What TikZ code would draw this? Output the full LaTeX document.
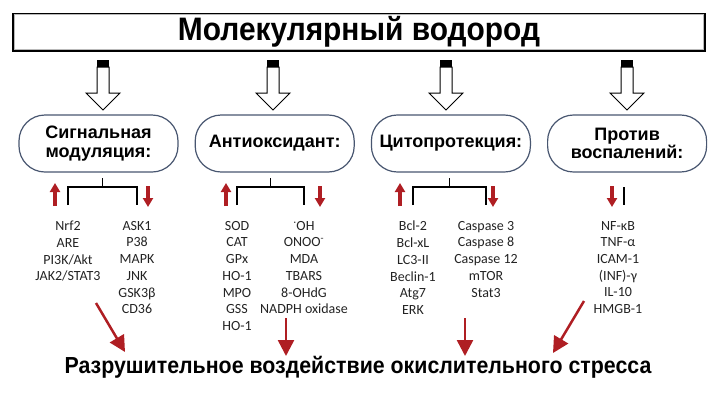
\documentclass[tikz,border=0pt]{standalone}
\usepackage{fontspec}
\setmainfont{Liberation Sans}
\newfontfamily\listfont{Carlito}
\newfontfamily\narrowfont[FakeStretch=0.92]{Liberation Sans}
\usetikzlibrary{arrows.meta, positioning, calc}

\definecolor{stressred}{RGB}{175,30,35}
\definecolor{pillblue}{RGB}{72,86,112}
\definecolor{listgray}{RGB}{35,35,35}

\begin{document}
\begin{tikzpicture}[
    x=1pt, y=-1pt,
    titlebox/.style={rectangle, draw=black, line width=2pt, minimum width=692pt, minimum height=37pt, inner sep=0pt, font=\narrowfont\bfseries\fontsize{32.5}{32.5}\selectfont},
    pill/.style={rectangle, draw=pillblue, line width=1.2pt, rounded corners=26pt, minimum width=159pt, minimum height=57pt, align=center, inner sep=0pt, font=\bfseries\fontsize{18}{18.5}\selectfont},
    itemlist/.style={anchor=north, align=center, inner sep=0pt, text=listgray, font=\listfont\fontsize{14}{16.7}\selectfont},
    bracket/.style={draw=black, line width=1.3pt},
    upmark/.style={draw=stressred, line width=3.5pt, -{Triangle[width=10pt,length=9pt]}},
    bigarrow/.style={draw=stressred, line width=2.5pt, -{Triangle[width=16pt,length=16pt]}},
    hollowarrow/.pic={
        \fill[black] (-6,0) rectangle (6,7);
        \draw[line width=1pt, fill=white] (-6,7) -- (-6,33) -- (-17,33) -- (0,50) -- (17,33) -- (6,33) -- (6,7) -- cycle;
    }
]
\useasboundingbox (0,0) rectangle (715,400);

% 1. Title
\node[titlebox] (title) at (359,32) {Молекулярный водород};
\draw[gray!55, line width=1.2pt] ([shift={(2.2pt,-2.2pt)}]title.north west) rectangle ([shift={(-2.2pt,2.2pt)}]title.south east);

% 2. Effect boxes
\node[pill] (signal) at (98.5,143.5) {Сигнальная\\модуляция:};
\node[pill, right=16pt of signal] (antiox) {Антиоксидант:};
\node[pill, right=16pt of antiox] (cyto) {Цитопротекция:};
\node[pill, right=16pt of cyto] (inflam) {Против\\воспалений:};

% 3. Hollow arrows from title to boxes
\pic at (103,60) {hollowarrow};
\pic at (273,60) {hollowarrow};
\pic at (446,60) {hollowarrow};
\pic at (627,60) {hollowarrow};

% 4. Marker lists
\node[itemlist] (sigup) at (68,221) {Nrf2\\ARE\\PI3K/Akt\\JAK2/STAT3};
\node[itemlist] (sigdown) at (137,221) {ASK1\\P38\\MAPK\\JNK\\GSK3β\\CD36};
\node[itemlist] (antiup) at (237,221) {SOD\\CAT\\GPx\\HO-1\\MPO\\GSS\\HO-1};
\node[itemlist] (antidown) at (304,221) {\textsuperscript{·}OH\\ONOO\textsuperscript{-}\\MDA\\TBARS\\8-OHdG\\NADPH oxidase};
\node[itemlist] (cytoup) at (413,221) {Bcl-2\\Bcl-xL\\LC3-II\\Beclin-1\\Atg7\\ERK};
\node[itemlist] (cytodown) at (486,221) {Caspase 3\\Caspase 8\\Caspase 12\\mTOR\\Stat3};
\node[itemlist] (inflamdown) at (618,221) {NF-κB\\TNF-α\\ICAM-1\\(INF)-γ\\IL-10\\HMGB-1};

% 5. Brackets
\draw[bracket] ([yshift=16pt]sigup.north) |- ([yshift=34pt]sigdown.north) -- ([yshift=16pt]sigdown.north);
\draw[bracket] ($([yshift=34pt]sigup.north)!0.5!([yshift=34pt]sigdown.north)$) -- ++(0,-9);
\draw[bracket] ([yshift=16pt]antiup.north) |- ([yshift=34pt]antidown.north) -- ([yshift=16pt]antidown.north);
\draw[bracket] ($([yshift=34pt]antiup.north)!0.5!([yshift=34pt]antidown.north)$) -- ++(0,-9);
\draw[bracket] ([yshift=16pt]cytoup.north) |- ([yshift=34pt]cytodown.north) -- ([yshift=16pt]cytodown.north);
\draw[bracket] ($([yshift=34pt]cytoup.north)!0.5!([yshift=34pt]cytodown.north)$) -- ++(0,-9);
\draw[bracket] (624,187) -- (624,205);

% 6. Up / down marks
\draw[upmark] (55,206) -- (55,183);
\draw[upmark] (148,186) -- (148,207);
\draw[upmark] (226,206) -- (226,183);
\draw[upmark] (320,186) -- (320,207);
\draw[upmark] (400,206) -- (400,183);
\draw[upmark] (493,186) -- (493,207);
\draw[upmark] (612,186) -- (612,207);

% 7. Oxidative stress
\node[font=\narrowfont\bfseries\fontsize{23.2}{23.2}\selectfont] (stress) at (358,367) {Разрушительное воздействие окислительного стресса};

\coordinate (from1) at (96,303);
\coordinate (to1) at (125,352);
\coordinate (from2) at (286,318);
\coordinate (to2) at (286,356);
\coordinate (from3) at (465,318);
\coordinate (to3) at (465,356);
\coordinate (from4) at (584,301);
\coordinate (to4) at (553,353);

\draw[bigarrow] (from1) -- (to1);
\draw[bigarrow] (from2) -- (to2);
\draw[bigarrow] (from3) -- (to3);
\draw[bigarrow] (from4) -- (to4);

\end{tikzpicture}
\end{document}
